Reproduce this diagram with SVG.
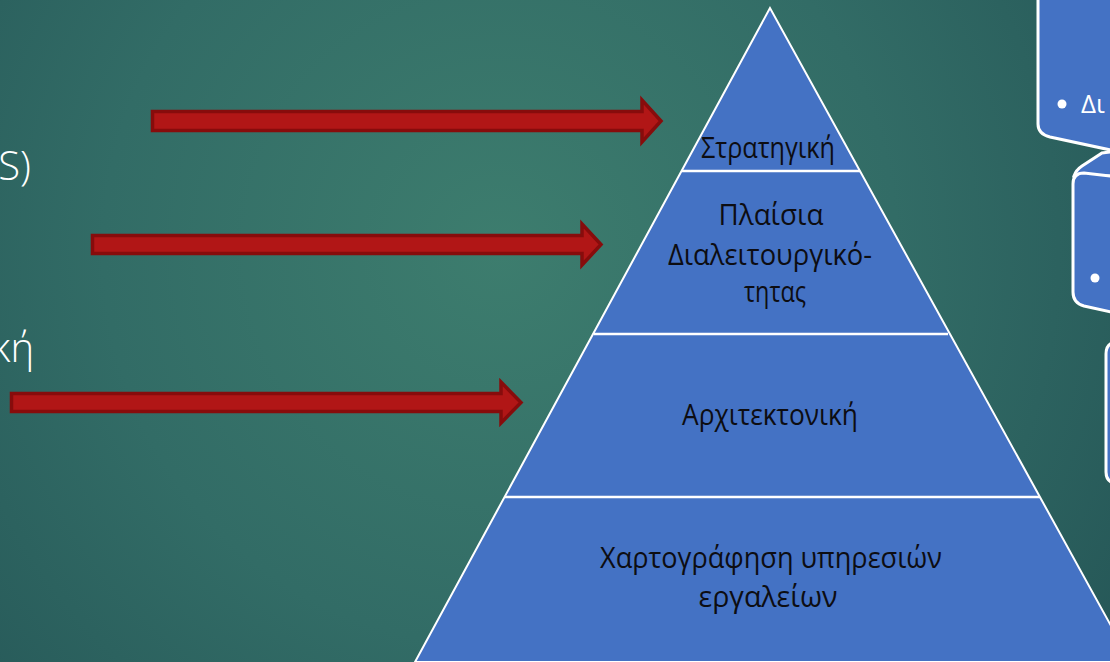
<svg xmlns="http://www.w3.org/2000/svg" width="1110" height="662" viewBox="0 0 1110 662">
  <defs>
    <radialGradient id="bg" cx="500" cy="250" r="720" gradientUnits="userSpaceOnUse">
      <stop offset="0" stop-color="#3d7d6e"/>
      <stop offset="0.55" stop-color="#326c66"/>
      <stop offset="1" stop-color="#265858"/>
    </radialGradient>
    <style>
      .tier { fill: #4472c4; stroke: #ffffff; stroke-width: 2; }
      .sep { stroke: #ffffff; stroke-width: 2.5; }
      .lbl { font-family: "Open Sans", "Noto Sans", sans-serif; font-size: 30px; font-weight: 500; fill: #0d0d12; text-anchor: middle; }
      .arrow { fill: #b11616; stroke: #870c0c; stroke-width: 3.5; stroke-linejoin: miter; }
      .side { font-family: "Open Sans", "Noto Sans", sans-serif; font-weight: 300; font-size: 40px; fill: #ffffff; text-anchor: end; }
      .box { fill: #4472c4; stroke: #ffffff; stroke-width: 3; }
      .boxtxt { font-family: "Open Sans", "Noto Sans", sans-serif; font-size: 26px; fill: #ffffff; }
    </style>
  </defs>

  <rect x="0" y="0" width="1110" height="662" fill="url(#bg)"/>

  <!-- left side partial texts -->
  <g id="left-texts">
    <text class="side" x="31" y="180">S)</text>
    <text class="side" x="34" y="362">κή</text>
  </g>

  <!-- right side boxes -->
  <g id="box1">
    <path class="box" d="M1038,-10 L1038,124 Q1038,134 1050,137 L1120,152 L1120,-10 Z"/>
    <circle cx="1062" cy="104" r="4.5" fill="#ffffff"/>
    <text class="boxtxt" x="1081" y="113">Δι</text>
  </g>
  <g id="box2">
    <path class="box" d="M1074,176 Q1076,170 1082,166 L1102,153 L1120,151 L1120,176 Z"/>
    <path class="box" d="M1073,184 Q1073,173 1084,173 L1120,177 L1120,314 L1084,306 Q1073,303 1073,292 Z"/>
    <circle cx="1095" cy="278" r="4.5" fill="#ffffff"/>
  </g>
  <g id="box3">
    <path class="box" d="M1106,354 Q1106,343 1116,342 L1125,342 L1125,486 L1116,484 Q1106,482 1106,472 Z"/>
  </g>

  <!-- pyramid -->
  <g id="pyramid">
    <polygon class="tier" points="770,8 415,662 1131,662"/>
  </g>
  <g id="tier-separators">
    <line class="sep" x1="682" y1="171" x2="860" y2="171"/>
    <line class="sep" x1="594" y1="334" x2="948" y2="334"/>
    <line class="sep" x1="505" y1="497" x2="1040" y2="497"/>
  </g>
  <g id="tier-strategy">
    <text class="lbl" x="768" y="158" textLength="134" lengthAdjust="spacingAndGlyphs">Στρατηγική</text>
  </g>
  <g id="tier-frameworks">
    <text class="lbl" x="771" y="225" textLength="105" lengthAdjust="spacingAndGlyphs">Πλαίσια</text>
    <text class="lbl" x="770" y="265" textLength="204" lengthAdjust="spacingAndGlyphs">Διαλειτουργικό-</text>
    <text class="lbl" x="775" y="302" textLength="62" lengthAdjust="spacingAndGlyphs">τητας</text>
  </g>
  <g id="tier-architecture">
    <text class="lbl" x="770" y="425" textLength="176" lengthAdjust="spacingAndGlyphs">Αρχιτεκτονική</text>
  </g>
  <g id="tier-mapping">
    <text class="lbl" x="771" y="568" textLength="342" lengthAdjust="spacingAndGlyphs">Χαρτογράφηση υπηρεσιών</text>
    <text class="lbl" x="768" y="607" textLength="139" lengthAdjust="spacingAndGlyphs">εργαλείων</text>
  </g>

  <!-- connectors (block arrows) -->
  <g id="connectors">
    <polygon class="arrow" points="152.5,111.5 642,111.5 642,100 661,121 642,142 642,130.5 152.5,130.5"/>
    <polygon class="arrow" points="92.5,235.5 582,235.5 582,224 601,244.5 582,265 582,253.5 92.5,253.5"/>
    <polygon class="arrow" points="11.5,393.5 501,393.5 501,382 521,402.5 501,423 501,411.5 11.5,411.5"/>
  </g>
</svg>
